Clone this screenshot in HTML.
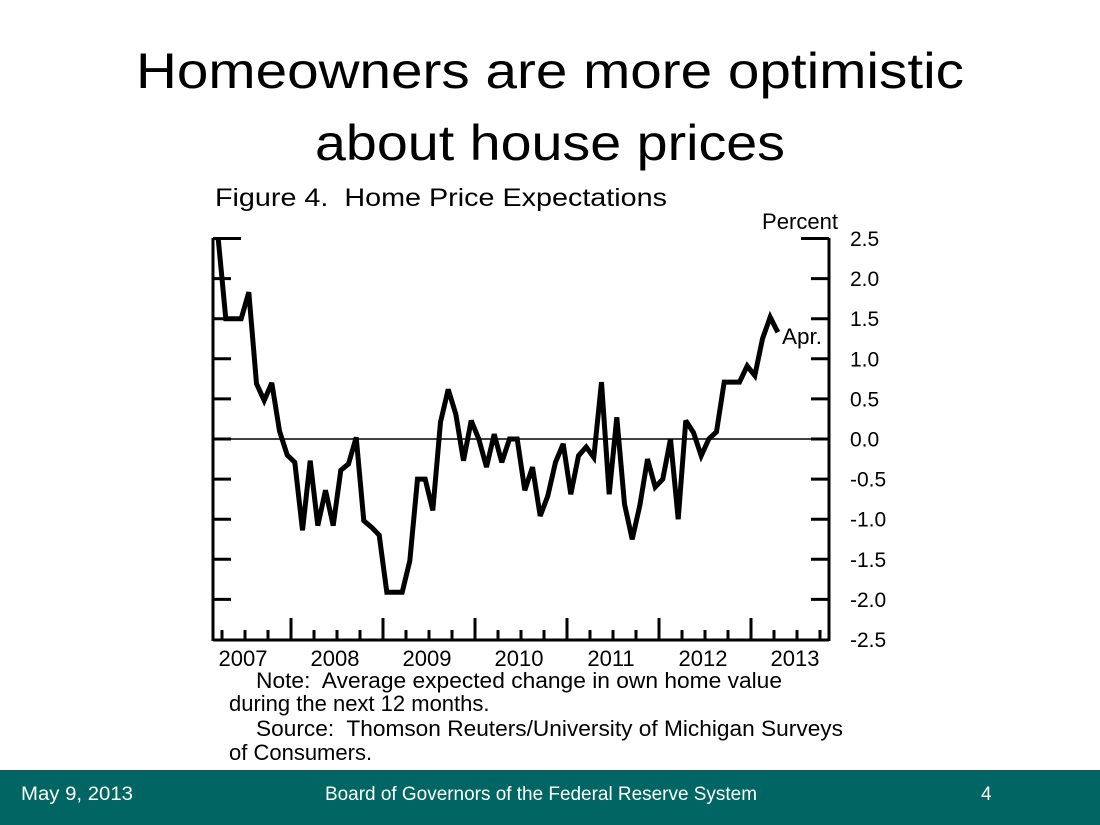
<!DOCTYPE html>
<html><head><meta charset="utf-8"><style>
html,body{margin:0;padding:0;background:#fff}
svg{display:block}
text{white-space:pre}
</style></head><body>
<svg width="1100" height="825" viewBox="0 0 1100 825" xmlns="http://www.w3.org/2000/svg" xml:space="preserve">
<text x="550" y="88" text-anchor="middle" font-family="Liberation Sans, sans-serif" font-size="50" textLength="828" lengthAdjust="spacingAndGlyphs">Homeowners are more optimistic</text>
<text x="550" y="160" text-anchor="middle" font-family="Liberation Sans, sans-serif" font-size="50" textLength="470" lengthAdjust="spacingAndGlyphs">about house prices</text>
<text x="215" y="206" font-family="Liberation Sans, sans-serif" font-size="25" textLength="452" lengthAdjust="spacingAndGlyphs">Figure 4.  Home Price Expectations</text>
<text x="762" y="229" font-family="Liberation Sans, sans-serif" font-size="22" textLength="76" lengthAdjust="spacingAndGlyphs">Percent</text>
<g id="chart"></g>
<text x="782" y="344" font-family="Liberation Sans, sans-serif" font-size="22" textLength="40" lengthAdjust="spacingAndGlyphs">Apr.</text>
<g font-family="Liberation Sans, sans-serif" font-size="22">
<text x="256" y="688" textLength="526" lengthAdjust="spacingAndGlyphs">Note:  Average expected change in own home value</text>
<text x="229" y="711">during the next 12 months.</text>
<text x="256" y="736" textLength="587" lengthAdjust="spacingAndGlyphs">Source:  Thomson Reuters/University of Michigan Surveys</text>
<text x="229" y="760">of Consumers.</text>
</g>
<rect x="0" y="770" width="1100" height="55" fill="#006563"/>
<g font-family="Liberation Sans, sans-serif" font-size="19" fill="#fff">
<text x="21" y="800" textLength="112" lengthAdjust="spacingAndGlyphs">May 9, 2013</text>
<text x="325" y="800" textLength="432" lengthAdjust="spacingAndGlyphs">Board of Governors of the Federal Reserve System</text>
<text x="981" y="800">4</text>
</g>
</svg>
<script>
const values = [2.5,1.5,1.5,1.5,1.83,0.69,0.48,0.7,0.1,-0.2,-0.29,-1.14,-0.27,-1.08,-0.64,-1.08,-0.39,-0.31,0.02,-1.02,-1.1,-1.2,-1.91,-1.91,-1.91,-1.52,-0.5,-0.5,-0.89,0.21,0.62,0.31,-0.27,0.23,0,-0.35,0.06,-0.29,0,0,-0.64,-0.35,-0.96,-0.71,-0.29,-0.06,-0.69,-0.21,-0.1,-0.23,0.71,-0.69,0.27,-0.81,-1.25,-0.83,-0.25,-0.6,-0.5,0,-1.0,0.23,0.08,-0.21,0,0.09,0.71,0.71,0.71,0.91,0.79,1.25,1.52,1.33];
const startMonth = 2; // Mar 2007, months since Jan 2007
const yTicks = ["2.5","2.0","1.5","1.0","0.5","0.0","-0.5","-1.0","-1.5","-2.0","-2.5"];
const yTickValues = [2.5,2,1.5,1,0.5,0,-0.5,-1,-1.5,-2,-2.5];
const years = ["2007","2008","2009","2010","2011","2012","2013"];

const NS="http://www.w3.org/2000/svg";
const g=document.getElementById('chart');
const L=213,R=829,T=239,B=640;
const x=m=>199+m*(92/12);
const y=v=>439-v*80.2;
function mk(t,a){const e=document.createElementNS(NS,t);for(const k in a)e.setAttribute(k,a[k]);g.appendChild(e);return e;}
let e=mk('line',{x1:L,y1:T-1,x2:L,y2:B+1,stroke:'#000','stroke-width':3});


e=mk('line',{x1:R,y1:T-1,x2:R,y2:B+1,stroke:'#000','stroke-width':3});


e=mk('line',{x1:L,y1:B,x2:R,y2:B,stroke:'#000','stroke-width':3});


e=mk('line',{x1:L,y1:y(0),x2:R,y2:y(0),stroke:'#000','stroke-width':1.5});


yTickValues.forEach((v,i)=>{
  const len=(i===0)?28:18;
  if(i<yTickValues.length-1){
    let t=mk('line',{x1:L,y1:y(v),x2:L+len,y2:y(v),stroke:'#000','stroke-width':3});
    
    
    t=mk('line',{x1:R-len,y1:y(v),x2:R,y2:y(v),stroke:'#000','stroke-width':3});
    
    
  }
  const tx=mk('text',{x:850,y:y(v)+7.5,'font-family':'Liberation Sans, sans-serif','font-size':21});
  tx.textContent=yTicks[i];
  
  
});
for(let m=3;m<=81;m+=3){
  const xx=x(m); if(xx<L+2||xx>R-2) continue;
  const h=(m%12===0)?22:10;
  const t=mk('line',{x1:xx,y1:B,x2:xx,y2:B-h,stroke:'#000','stroke-width':3});
  
  
}
years.forEach((yr,i)=>{
  const t=mk('text',{x:x(i*12+6)-2,y:666,'text-anchor':'middle','font-family':'Liberation Sans, sans-serif','font-size':22});
  t.textContent=yr;
  
  
});
const pts=values.map((v,i)=>x(startMonth+i+0.5).toFixed(1)+','+y(v).toFixed(1)).join(' ');
e=mk('polyline',{points:pts,fill:'none',stroke:'#000','stroke-width':5,'stroke-linejoin':'miter','stroke-miterlimit':3});


</script>
</body></html>
